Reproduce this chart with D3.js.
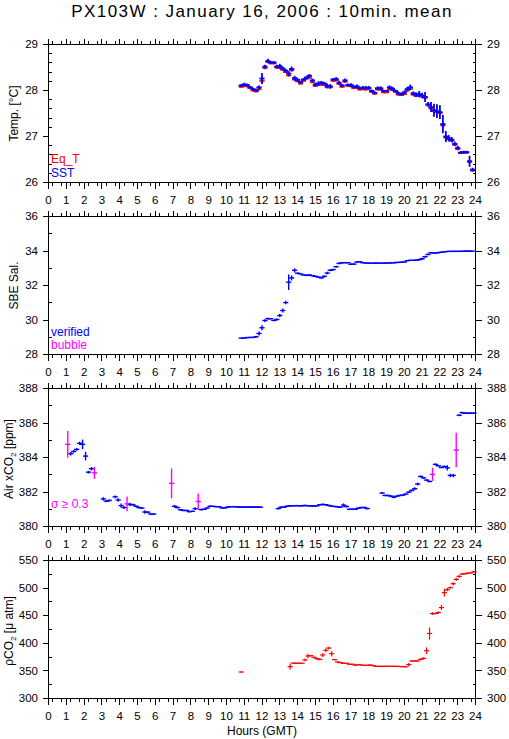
<!DOCTYPE html>
<html><head><meta charset="utf-8">
<script src="https://cdn.jsdelivr.net/npm/d3@7"></script>
<style>
body{margin:0;background:#fff;}
svg text{font-family:"Liberation Sans",Arial,Helvetica,sans-serif;fill:#000;}
</style>
</head><body><svg id="c" width="509" height="739"></svg>
<script>
// ---------------- DATA ----------------
const hourTicks = [0,1,2,3,4,5,6,7,8,9,10,11,12,13,14,15,16,17,18,19,20,21,22,23,24];

// Panel 1 & 2 : 10-min means (minutes of day)
const tsMinutes = [650,660,670,680,690,700,710,720,730,740,
 750,760,770,780,790,800,810,820,830,840,
 850,860,870,880,890,900,910,920,930,940,
 950,960,970,980,990,1000,1010,1020,1030,1040,
 1050,1060,1070,1080,1090,1100,1110,1120,1130,1140,
 1150,1160,1170,1180,1190,1200,1210,1220,1230,1240,
 1250,1260,1270,1280,1290,1300,1310,1320,1330,1340,
 1350,1360,1370,1380,1390,1400,1410,1420,1430];

const sstValues = [28.11,28.13,28.12,28.07,28.03,28.00,28.07,28.26,28.52,28.64,
 28.61,28.61,28.52,28.53,28.48,28.43,28.37,28.47,28.27,28.23,
 28.18,28.24,28.28,28.32,28.22,28.13,28.15,28.17,28.15,28.10,
 28.09,28.24,28.25,28.17,28.11,28.22,28.12,28.12,28.08,28.09,
 28.05,28.06,28.06,28.06,27.99,27.95,28.05,28.05,27.99,27.99,
 28.07,28.04,27.99,27.94,27.92,27.96,28.03,28.07,27.94,27.91,
 27.92,27.89,27.86,27.70,27.64,27.57,27.55,27.53,27.27,27.00,
 26.96,26.93,26.84,26.75,26.65,26.66,26.66,26.46,26.28];
const sstSd = [0.03,0.04,0.03,0.03,0.03,0.03,0.04,0.12,0.04,0.05,
 0.03,0.03,0.04,0.05,0.04,0.04,0.05,0.05,0.05,0.04,
 0.03,0.03,0.04,0.04,0.04,0.04,0.05,0.04,0.04,0.05,
 0.05,0.03,0.04,0.04,0.03,0.04,0.03,0.04,0.03,0.04,
 0.03,0.04,0.04,0.04,0.03,0.03,0.04,0.04,0.03,0.02,
 0.04,0.04,0.03,0.04,0.03,0.04,0.05,0.06,0.04,0.05,
 0.07,0.06,0.11,0.05,0.11,0.14,0.15,0.15,0.20,0.12,
 0.07,0.06,0.05,0.05,0.03,0.03,0.03,0.12,0.04];
const eqTValues = [28.08,28.10,28.09,28.05,28.00,27.98,28.03,28.21,28.49,28.62,
 28.59,28.59,28.50,28.49,28.45,28.40,28.33,28.44,28.24,28.20,
 28.15,28.21,28.26,28.28,28.18,28.10,28.12,28.13,28.12,28.07,
 28.07,28.21,28.22,28.14,28.08,28.19,28.10,28.09,28.05,28.06,
 28.02,28.03,28.02,28.04,27.97,27.93,28.02,28.02,27.96,27.96,
 28.03,28.01,27.97,27.91,27.90,27.92,28.00,28.03,27.91,27.88,
 27.89,27.87,27.84,27.68,27.61,27.55,27.53,27.51,27.24,26.98,
 26.94,26.91,26.82,26.73,26.64,26.65,26.65,26.45,26.26];
const eqTSd = [0.02,0.02,0.02,0.02,0.02,0.02,0.03,0.05,0.03,0.02,
 0.02,0.02,0.02,0.03,0.02,0.02,0.03,0.03,0.03,0.02,
 0.02,0.02,0.02,0.02,0.02,0.02,0.02,0.02,0.02,0.02,
 0.02,0.02,0.02,0.02,0.02,0.02,0.02,0.02,0.02,0.02,
 0.02,0.02,0.02,0.02,0.02,0.02,0.02,0.02,0.02,0.02,
 0.02,0.02,0.02,0.02,0.02,0.02,0.02,0.02,0.02,0.02,
 0.03,0.02,0.04,0.02,0.04,0.05,0.05,0.05,0.06,0.04,
 0.03,0.02,0.02,0.02,0.02,0.02,0.02,0.04,0.02];

const salValues = [28.95,28.95,28.98,28.99,28.99,29.03,29.22,29.55,29.97,30.08,
 30.07,29.97,30.03,30.26,30.55,31.01,32.19,32.44,32.88,32.71,
 32.67,32.61,32.59,32.61,32.57,32.53,32.49,32.44,32.53,32.72,
 32.88,32.92,33.09,33.28,33.32,33.32,33.32,33.23,33.24,33.36,
 33.38,33.32,33.30,33.30,33.29,33.30,33.30,33.29,33.30,33.30,
 33.31,33.31,33.33,33.34,33.35,33.36,33.44,33.46,33.46,33.47,
 33.50,33.55,33.67,33.80,33.90,33.88,33.89,33.92,33.94,33.96,
 33.98,33.98,33.98,33.98,33.98,33.99,33.99,33.99,33.99];
const salSd = [0.02,0.02,0.02,0.02,0.02,0.06,0.12,0.15,0.08,0.05,
 0.03,0.03,0.06,0.10,0.12,0.10,0.45,0.15,0.12,0.05,
 0.03,0.03,0.05,0.03,0.03,0.04,0.03,0.04,0.06,0.08,
 0.06,0.05,0.06,0.05,0.03,0.02,0.02,0.04,0.03,0.04,
 0.02,0.02,0.02,0.02,0.02,0.03,0.02,0.02,0.02,0.02,
 0.02,0.02,0.04,0.02,0.03,0.02,0.03,0.02,0.02,0.02,
 0.05,0.06,0.06,0.05,0.03,0.02,0.04,0.02,0.02,0.02,
 0.02,0.02,0.02,0.02,0.02,0.02,0.05,0.04,0.02];

// Panel 3 : Air xCO2
const airMinutes = [65,75,85,95,105,115,125,135,145,155,185,195,205,
 225,235,245,255,265,275,285,295,305,315,325,335,345,355,
 415,425,435,445,455,465,475,485,495,505,515,525,535,545,555,565,575,585,595,605,615,625,635,645,655,665,675,685,695,705,715,
 775,785,795,805,815,825,835,845,855,865,875,885,895,905,915,925,935,945,955,965,975,985,995,1005,1015,1025,1035,1045,1055,1065,1075,
 1125,1135,1145,1155,1165,1175,1185,1195,1205,1215,1225,1235,1245,1255,1265,1275,1285,1295,1305,1315,1325,1335,1345,1355,1365,1375,1385,1395,1405,1415,1425,1435];
const airValues = [384.76,384.22,384.35,384.47,384.82,384.76,384.08,383.15,383.35,383.11,381.60,381.47,381.51,
 381.72,381.54,381.21,381.10,381.31,381.28,381.26,381.17,381.10,381.07,380.84,380.83,380.72,380.72,
 382.50,381.17,381.10,380.97,380.93,380.93,380.86,380.88,381.03,381.45,380.98,381.00,381.07,381.17,381.17,381.15,381.15,381.08,381.08,381.13,381.15,381.15,381.14,381.12,381.13,381.12,381.12,381.13,381.13,381.13,381.12,
 381.04,381.12,381.12,381.18,381.20,381.20,381.21,381.20,381.20,381.22,381.20,381.20,381.18,381.20,381.26,381.28,381.26,381.22,381.18,381.16,381.14,381.12,381.24,381.16,381.00,381.00,381.00,381.06,381.10,381.10,381.04,
 381.94,381.80,381.80,381.76,381.70,381.76,381.80,381.82,381.88,381.99,382.09,382.19,382.46,382.90,382.82,382.69,382.61,383.02,383.60,383.52,383.42,383.48,383.40,382.96,382.96,384.43,386.45,386.60,386.57,386.57,386.57,386.57];
const airSd = [0.78,0.10,0.08,0.08,0.10,0.28,0.25,0.08,0.10,0.35,0.10,0.06,0.06,
 0.08,0.10,0.12,0.08,0.43,0.10,0.06,0.05,0.05,0.05,0.10,0.06,0.04,0.04,
 0.87,0.08,0.06,0.04,0.04,0.04,0.04,0.04,0.08,0.47,0.05,0.05,0.04,0.06,0.04,0.04,0.04,0.04,0.04,0.05,0.04,0.04,0.04,0.04,0.04,0.04,0.04,0.04,0.04,0.04,0.04,
 0.06,0.06,0.04,0.04,0.04,0.04,0.04,0.04,0.04,0.04,0.04,0.04,0.04,0.04,0.04,0.05,0.04,0.04,0.04,0.04,0.04,0.04,0.10,0.06,0.04,0.04,0.04,0.04,0.04,0.05,0.04,
 0.06,0.04,0.04,0.04,0.06,0.04,0.04,0.04,0.04,0.05,0.06,0.08,0.08,0.06,0.05,0.05,0.05,0.38,0.06,0.05,0.04,0.05,0.15,0.10,0.10,1.00,0.06,0.05,0.04,0.04,0.04,0.04];
const sigmaLimit = 0.3;

// Panel 4 : pCO2
const pco2Minutes = [650,815,825,835,845,855,865,875,885,895,905,
 915,925,935,945,955,965,975,985,995,1005,
 1015,1025,1035,1045,1055,1065,1075,1085,1095,1105,
 1115,1125,1135,1145,1155,1165,1175,1185,1195,1205,
 1215,1225,1235,1245,1255,1265,1275,1285,1295,1305,
 1315,1325,1335,1345,1355,1365,1375,1385,1395,1405,
 1415,1425,1435];
const pco2Values = [348.0,357.7,364.0,364.0,364.0,364.0,369.8,377.0,377.6,374.6,372.2,
 371.0,378.8,387.2,391.4,381.2,370.4,366.2,365.0,363.7,363.7,
 362.0,362.0,360.4,361.2,360.7,360.1,360.1,360.7,359.5,358.3,
 358.3,358.3,358.3,358.3,358.3,358.3,358.3,358.0,357.6,357.5,
 361.4,368.0,368.0,368.0,371.0,372.8,386.6,417.8,453.9,453.9,
 455.7,464.7,491.7,497.1,500.7,507.9,515.8,521.2,525.4,526.0,
 527.2,527.5,529.6];
const pco2Sd = [1.5,5,1,0.5,0.5,0.5,2.5,4,1,1.5,2,
 1.5,3.5,3.5,2.5,5,1,1.5,1,0.5,0.5,
 0.5,1,1,0.5,0.5,0.5,0.5,1,0.5,0.5,
 0.5,0.5,1,0.5,0.5,0.5,0.5,1,0.5,1,
 3,1.5,1,1,1.5,2,6,11,2.5,1.5,
 2,4.5,7,3,2,3,3,2.5,1.5,1,
 1,0.5,2];

// ---------------- DRAW ----------------
const svg = d3.select('#c');
svg.append('rect').attr('width',509).attr('height',739).attr('fill','#fff');
const L = 48.5, R = 475.5, PH = 138;
const x = d3.scaleLinear().domain([0,24]).range([L,R]);
const FONT = '"Liberation Sans",Arial,Helvetica,sans-serif';

svg.append('text').attr('x',262).attr('y',17).attr('text-anchor','middle')
  .attr('font-size',17).attr('letter-spacing',1.45)
  .text('PX103W : January 16, 2006 : 10min. mean');

const halfHours = d3.range(0,48).map(i => i + 0.5).map(v => v/2).filter(v => v % 1 !== 0);

function makePanel(top, lo, hi, majStep, minStep, labelX) {
  const y = d3.scaleLinear().domain([lo,hi]).range([top+PH, top]);
  const g = svg.append('g');
  const nMaj = Math.round((hi-lo)/majStep), nMin = Math.round((hi-lo)/minStep);
  const major = d3.range(nMaj+1).map(i => lo + i*majStep);
  const minor = d3.range(nMin+1).map(i => lo + i*minStep).filter(v => Math.abs(((v-lo)/majStep) - Math.round((v-lo)/majStep)) > 1e-6);
  const style = sel => { sel.select('.domain').remove(); sel.attr('font-family',FONT).attr('font-size',11.5).attr('shape-rendering','crispEdges');
    sel.selectAll('line').attr('stroke','#000').attr('stroke-width',1); sel.selectAll('text').attr('fill','#000'); };
  g.append('g').attr('transform',`translate(${L},0)`).call(d3.axisLeft(y).tickValues(major).tickSize(6).tickPadding(4.5).offset(0).tickFormat(d3.format('d'))).call(style);
  g.append('g').attr('transform',`translate(${L},0)`).call(d3.axisLeft(y).tickValues(minor).tickSize(-3).offset(0).tickFormat('')).call(style);
  g.append('g').attr('transform',`translate(${R},0)`).call(d3.axisRight(y).tickValues(major).tickSize(6).tickPadding(5.5).offset(0).tickFormat(d3.format('d'))).call(style);
  g.append('g').attr('transform',`translate(${R},0)`).call(d3.axisRight(y).tickValues(minor).tickSize(-3).offset(0).tickFormat('')).call(style);
  g.append('g').attr('transform',`translate(0,${top+PH})`).call(d3.axisBottom(x).tickValues(hourTicks).tickSize(6).tickPadding(7).offset(0).tickFormat(d3.format('d'))).call(style);
  g.append('g').attr('transform',`translate(0,${top+PH})`).call(d3.axisBottom(x).tickValues(halfHours).tickSize(3.5).offset(0).tickFormat('')).call(style);
  g.append('g').attr('transform',`translate(0,${top})`).call(d3.axisTop(x).tickValues(hourTicks).tickSize(6).offset(0).tickFormat('')).call(style);
  g.append('g').attr('transform',`translate(0,${top})`).call(d3.axisTop(x).tickValues(halfHours).tickSize(3.5).offset(0).tickFormat('')).call(style);
  g.append('rect').attr('x',L).attr('y',top).attr('width',R-L).attr('height',PH)
    .attr('fill','none').attr('stroke','#000').attr('stroke-width',1.3).attr('shape-rendering','crispEdges');
  return y;
}

function marks(y, minutes, values, sds, colorFn, sw, clipTop, clipBot) {
  const g = svg.append('g');
  const data = minutes.map((m,i) => ({h:m/60, v:values[i], s:sds[i], i}));
  g.selectAll('line.hz').data(data).join('line')
    .attr('x1', d => x(d.h)-2.6).attr('x2', d => x(d.h)+2.6)
    .attr('y1', d => y(d.v)).attr('y2', d => y(d.v))
    .attr('stroke', colorFn).attr('stroke-width', sw);
  g.selectAll('line.vt').data(data).join('line')
    .attr('x1', d => x(d.h)).attr('x2', d => x(d.h))
    .attr('y1', d => y(d.v - d.s)).attr('y2', d => y(d.v + d.s))
    .attr('stroke', colorFn).attr('stroke-width', sw);
}

function yTitle(cx, cy, parts) {
  const t = svg.append('text').attr('transform',`translate(${cx},${cy}) rotate(-90)`)
    .attr('text-anchor','middle').attr('font-size',12);
  parts.forEach(p => { const ts = t.append('tspan').text(p.t); if (p.dy) ts.attr('dy',p.dy); if (p.fs) ts.attr('font-size',p.fs); });
}
function legend(px, py, txt, col) {
  svg.append('text').attr('x',px).attr('y',py).attr('font-size',12).attr('fill',col).style('fill',col).text(txt);
}

// Panel 1
const y1 = makePanel(44.5, 26, 29, 1, 0.2);
marks(y1, tsMinutes, eqTValues, eqTSd, () => '#ff0000', 1.8);
marks(y1, tsMinutes, sstValues, sstSd, () => '#0000ff', 1.8);
yTitle(18, 113.5, [{t:'Temp. [°C]'}]);
legend(51, 162.7, 'Eq_T', '#ff0000');
legend(51, 177, 'SST', '#0000ff');

// Panel 2
const y2 = makePanel(216.5, 28, 36, 2, 1);
marks(y2, tsMinutes, salValues, salSd, () => '#0000ff', 1.4);
yTitle(18.3, 285.5, [{t:'SBE Sal.'}]);
legend(51, 336, 'verified', '#0000ff');
legend(51, 349, 'bubble', '#ff00ff');

// Panel 3
const y3 = makePanel(388.5, 380, 388, 2, 1);
marks(y3, airMinutes, airValues, airSd, d => d.s >= sigmaLimit ? '#ff00ff' : '#0000ff', 1.4);
yTitle(12.5, 459, [{t:'Air xCO'},{t:'2',dy:3,fs:8},{t:' [ppm]',dy:-3}]);
legend(51, 508, 'σ ≥ 0.3', '#ff00ff');

// Panel 4
const y4 = makePanel(560.5, 300, 550, 50, 25);
marks(y4, pco2Minutes, pco2Values, pco2Sd, () => '#ff0000', 1.2);
yTitle(12.5, 631, [{t:'ρCO'},{t:'2',dy:3,fs:8},{t:' [μ atm]',dy:-3}]);

svg.append('text').attr('x',262).attr('y',735).attr('text-anchor','middle').attr('font-size',12).text('Hours (GMT)');
</script>
</body></html>
